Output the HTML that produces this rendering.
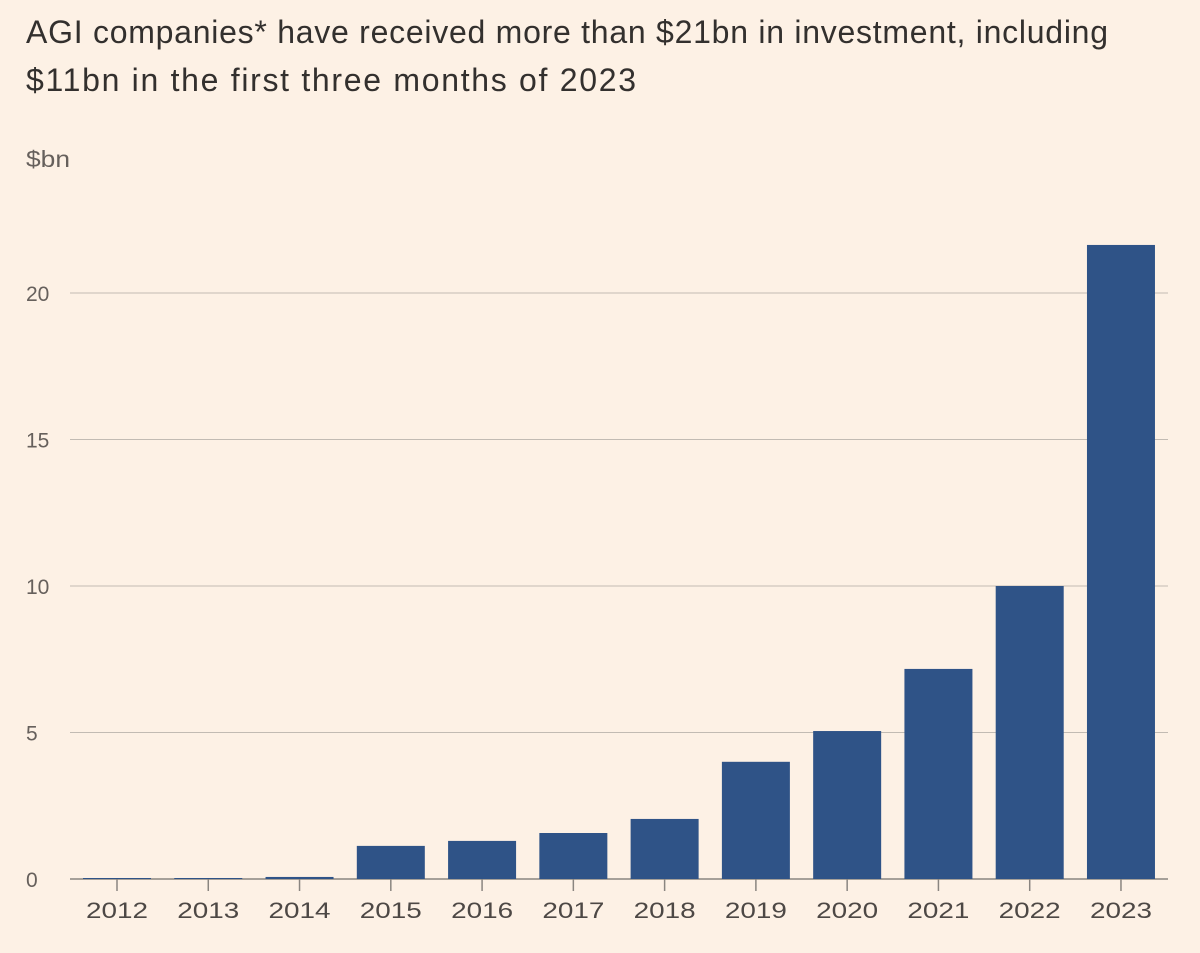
<!DOCTYPE html>
<html><head><meta charset="utf-8"><style>
body{margin:0;background:#fdf1e5;font-family:"Liberation Sans",sans-serif;}
#wrap{position:relative;width:1200px;height:953px;overflow:hidden;}
</style></head><body>
<div id="wrap">
<svg id="chart" width="1200" height="953">
<text x="26" y="43" font-size="32" fill="#33302e" textLength="1082" lengthAdjust="spacing">AGI companies* have received more than $21bn in investment, including</text>
<text x="26" y="91" font-size="32" fill="#33302e" textLength="610" lengthAdjust="spacing">$11bn in the first three months of 2023</text>
<text x="26" y="167" font-size="23" fill="#66605c" textLength="44" lengthAdjust="spacingAndGlyphs">$bn</text>
<g id="grid"></g><g id="bars"></g><g id="xaxis"></g>
</svg>
</div>
<script>
const categories=["2012","2013","2014","2015","2016","2017","2018","2019","2020","2021","2022","2023"];
const values=[0.02,0.02,0.07,1.13,1.3,1.57,2.05,4.0,5.05,7.17,10.0,21.64];
const yTicks=[0,5,10,15,20];
const ns="http://www.w3.org/2000/svg";
const y0=879,pxPer=29.3,x0=117,step=91.27,bw=68;
const Y=v=>y0-v*pxPer, X=i=>x0+i*step;
function mk(t,a,p){const e=document.createElementNS(ns,t);for(const k in a)e.setAttribute(k,a[k]);p.appendChild(e);return e;}
const grid=document.getElementById('grid');
yTicks.forEach(t=>{
 const l=mk('line',{x1:70,x2:1168,y1:Y(t),y2:Y(t),stroke:t===0?'#8a8580':'#c2bbb3','stroke-width':t===0?1.5:1},grid);
 
 
 const tx=mk('text',{x:26,y:Y(t)+8,'font-size':21,fill:'#66605c'},grid);tx.textContent=t;
 
 
});
const bars=document.getElementById('bars'),xa=document.getElementById('xaxis');
categories.forEach((c,i)=>{
 const h=Math.max(values[i]*pxPer,1);
 const r=mk('rect',{x:X(i)-bw/2,y:y0-h,width:bw,height:h,fill:'#2f5387'},bars);
 
 
 const tk=mk('line',{x1:X(i),x2:X(i),y1:y0,y2:y0+12,stroke:'#8a8580','stroke-width':1.5},xa);
 
 
 const tx=mk('text',{x:X(i)-31,y:918,'font-size':22,fill:'#4d4845',textLength:62,lengthAdjust:'spacingAndGlyphs'},xa);tx.textContent=c;
 
 
});
</script>
</body></html>
